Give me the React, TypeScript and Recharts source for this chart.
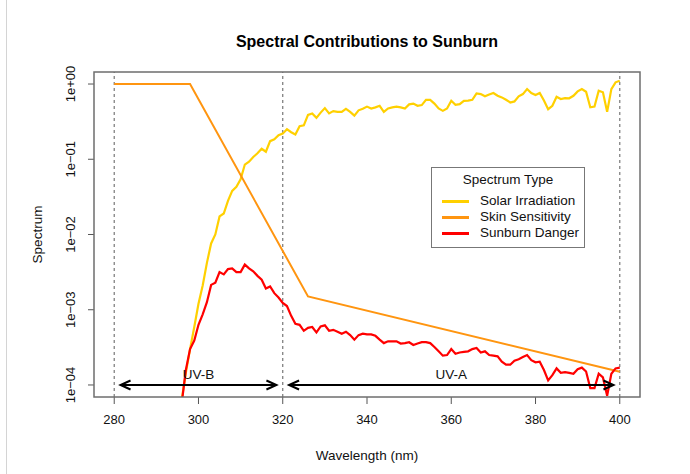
import React from 'react';
import { LineChart, Line, XAxis, YAxis, ReferenceLine } from 'recharts';

// wavelength grid (nm) shared by the measured spectra
const wavelengths = [
  296, 297, 298, 299, 300, 301, 302, 303, 304, 305, 306, 307, 308, 309, 310,
  311, 312, 313, 314, 315, 316, 317, 318, 319, 320, 321, 322, 323, 324, 325,
  326, 327, 328, 329, 330, 331, 332, 333, 334, 335, 336, 337, 338, 339, 340,
  341, 342, 343, 344, 345, 346, 347, 348, 349, 350, 351, 352, 353, 354, 355,
  356, 357, 358, 359, 360, 361, 362, 363, 364, 365, 366, 367, 368, 369, 370,
  371, 372, 373, 374, 375, 376, 377, 378, 379, 380, 381, 382, 383, 384, 385,
  386, 387, 388, 389, 390, 391, 392, 393, 394, 395, 396, 397, 398, 399, 400,
];

const solarIrradiation = [
  6.3e-5, 1.45e-4, 3.0e-4, 5.9e-4, 1.2e-3, 2.1e-3, 4.2e-3, 7.6e-3, 0.01, 0.0174,
  0.019, 0.028, 0.038, 0.043, 0.054, 0.085, 0.093, 0.107, 0.12, 0.138,
  0.126, 0.174, 0.184, 0.209, 0.219, 0.251, 0.229, 0.214, 0.275, 0.282,
  0.389, 0.407, 0.355, 0.417, 0.479, 0.407, 0.437, 0.427, 0.427, 0.468,
  0.427, 0.38, 0.447, 0.468, 0.501, 0.473, 0.49, 0.513, 0.427, 0.473,
  0.49, 0.501, 0.49, 0.473, 0.537, 0.55, 0.513, 0.525, 0.617, 0.617,
  0.55, 0.473, 0.44, 0.473, 0.598, 0.528, 0.541, 0.598, 0.603, 0.617,
  0.752, 0.735, 0.686, 0.724, 0.759, 0.698, 0.664, 0.617, 0.569, 0.587,
  0.686, 0.735, 0.857, 0.759, 0.713, 0.759, 0.603, 0.463, 0.513, 0.676,
  0.631, 0.65, 0.646, 0.698, 0.798, 0.857, 0.789, 0.49, 0.501, 0.813,
  0.776, 0.427, 0.857, 1.054, 1.107,
];

const sunburnDanger = [
  5.6e-5, 1.58e-4, 3.0e-4, 3.9e-4, 6.3e-4, 8.7e-4, 1.26e-3, 2.14e-3, 2.29e-3, 3.16e-3,
  2.95e-3, 3.47e-3, 3.55e-3, 3.16e-3, 3.16e-3, 3.98e-3, 3.55e-3, 3.24e-3, 2.82e-3, 2.51e-3,
  1.91e-3, 2.04e-3, 1.66e-3, 1.45e-3, 1.23e-3, 1.12e-3, 8.3e-4, 6.5e-4, 6.3e-4, 5.25e-4,
  5.75e-4, 5.9e-4, 5.0e-4, 6.0e-4, 6.2e-4, 5.25e-4, 5.4e-4, 5.1e-4, 4.8e-4, 5.1e-4,
  4.6e-4, 4.0e-4, 4.6e-4, 4.8e-4, 4.7e-4, 4.7e-4, 4.5e-4, 4.0e-4, 3.6e-4, 3.8e-4,
  3.8e-4, 3.8e-4, 3.55e-4, 3.6e-4, 3.7e-4, 3.4e-4, 3.55e-4, 3.7e-4, 3.7e-4, 3.6e-4,
  3.2e-4, 2.8e-4, 2.45e-4, 2.5e-4, 3.0e-4, 2.6e-4, 2.7e-4, 2.75e-4, 2.8e-4, 3.0e-4,
  3.1e-4, 2.7e-4, 2.8e-4, 2.5e-4, 2.45e-4, 2.4e-4, 2.04e-4, 1.86e-4, 1.86e-4, 2.1e-4,
  2.2e-4, 2.35e-4, 2.5e-4, 2.14e-4, 2.0e-4, 2.04e-4, 1.58e-4, 1.15e-4, 1.35e-4, 1.66e-4,
  1.45e-4, 1.48e-4, 1.45e-4, 1.41e-4, 1.62e-4, 1.7e-4, 1.51e-4, 9.1e-5, 9.1e-5, 1.41e-4,
  1.26e-4, 7.2e-5, 1.41e-4, 1.66e-4, 1.7e-4,
];

// skin sensitivity (erythema action spectrum) breakpoints
const skinWavelengths = [280, 298, 326, 400];
const skinSensitivity = [1, 1, 1.5e-3, 1.5e-4];

const xTicks = [280, 300, 320, 340, 360, 380, 400];
const yTicks = [1e-4, 1e-3, 1e-2, 1e-1, 1];
const yTickLabels = ['1e\u221204', '1e\u221203', '1e\u221202', '1e\u221201', '1e+00'];
const bandEdges = [280, 320, 400];

const seriesNames = ['Solar Irradiation', 'Skin Sensitivity', 'Sunburn Danger'];
const seriesColors = ['#FFD000', '#FF9510', '#FF0000'];

const solarData = wavelengths.map((w, i) => ({ w, v: solarIrradiation[i] }));
const sunburnData = wavelengths.map((w, i) => ({ w, v: sunburnDanger[i] }));
const skinData = skinWavelengths.map((w, i) => ({ w, v: skinSensitivity[i] }));

const FONT = '"Liberation Sans", Arial, Helvetica, sans-serif';

const XTick = ({ x, y, payload }: any) => (
  <text x={x} y={y + 18} textAnchor="middle" fontSize={13} fill="#111" fontFamily={FONT}>
    {payload.value}
  </text>
);

const YTick = ({ y, payload }: any) => {
  const idx = yTicks.findIndex((t) => Math.abs(Math.log10(t) - Math.log10(payload.value)) < 1e-6);
  return (
    <g transform={`translate(70.5, ${y}) rotate(-90)`}>
      <text x={0} y={0} dy="0.35em" textAnchor="middle" fontSize={13} fill="#111" fontFamily={FONT}>
        {yTickLabels[idx]}
      </text>
    </g>
  );
};

const Arrow = (props: any) => {
  const { x1, y1, x2, y2, text } = props;
  const len = 10;
  const hw = 4.5;
  return (
    <g>
      <line x1={x1} y1={y1} x2={x2} y2={y2} stroke="#000" strokeWidth={2} />
      <polyline points={`${x1 + len},${y1 - hw} ${x1},${y1} ${x1 + len},${y1 + hw}`} fill="none" stroke="#000" strokeWidth={2} />
      <polyline points={`${x2 - len},${y2 - hw} ${x2},${y2} ${x2 - len},${y2 + hw}`} fill="none" stroke="#000" strokeWidth={2} />
      <text x={(x1 + x2) / 2} y={y1 - 6} textAnchor="middle" fontSize={13.5} fill="#111" fontFamily={FONT}>
        {text}
      </text>
    </g>
  );
};

export default function App() {
  return (
    <div
      style={{
        position: 'absolute',
        left: 0,
        top: 0,
        width: 690,
        height: 474,
        background: '#fff',
        fontFamily: FONT,
        overflow: 'hidden',
      }}
    >
      <LineChart width={690} height={474} margin={{ top: 72, right: 50, bottom: 0, left: 0 }}>
        <XAxis
          type="number"
          dataKey="w"
          domain={[275.2, 404.8]}
          ticks={xTicks}
          allowDataOverflow
          height={77}
          tickSize={7}
          axisLine={false}
          tickLine={{ stroke: '#555' }}
          tick={<XTick />}
          label={{
            content: () => (
              <text x={367} y={460} textAnchor="middle" fontSize={13.5} fill="#111" fontFamily={FONT}>
                Wavelength (nm)
              </text>
            ),
          }}
        />
        <YAxis
          type="number"
          scale="log"
          domain={[6.92e-5, 1.445]}
          ticks={yTicks}
          allowDataOverflow
          width={94}
          tickSize={6}
          axisLine={false}
          tickLine={{ stroke: '#555' }}
          tick={<YTick />}
          label={{
            content: () => (
              <g transform="translate(37, 234.5) rotate(-90)">
                <text x={0} y={0} dy="0.35em" textAnchor="middle" fontSize={13.5} fill="#111" fontFamily={FONT}>
                  Spectrum
                </text>
              </g>
            ),
          }}
        />
        {bandEdges.map((b) => (
          <ReferenceLine key={b} x={b} stroke="#777" strokeWidth={1.2} strokeDasharray="3 3" />
        ))}
        <Line data={solarData} dataKey="v" type="linear" stroke={seriesColors[0]} strokeWidth={2.2} dot={false} isAnimationActive={false} />
        <Line data={skinData} dataKey="v" type="linear" stroke={seriesColors[1]} strokeWidth={2} dot={false} isAnimationActive={false} />
        <Line data={sunburnData} dataKey="v" type="linear" stroke={seriesColors[2]} strokeWidth={2.2} dot={false} isAnimationActive={false} />
        <ReferenceLine
          segment={[{ x: 281.5, y: 1e-4 }, { x: 318.5, y: 1e-4 }]}
          shape={(p: any) => <Arrow {...p} text="UV-B" />}
        />
        <ReferenceLine
          segment={[{ x: 321.5, y: 1e-4 }, { x: 398.5, y: 1e-4 }]}
          shape={(p: any) => <Arrow {...p} text="UV-A" />}
        />
      </LineChart>

      {/* title */}
      <div
        style={{
          position: 'absolute',
          left: 94,
          width: 546,
          top: 32,
          textAlign: 'center',
          fontSize: 16,
          fontWeight: 'bold',
          color: '#000',
          lineHeight: '20px',
        }}
      >
        Spectral Contributions to Sunburn
      </div>

      {/* plot frame + thin page edge on the left */}
      <svg style={{ position: 'absolute', left: 0, top: 0, pointerEvents: 'none' }} width={690} height={474}>
        <rect x={94} y={72} width={546} height={325} fill="none" stroke="#6e6e6e" strokeWidth={1.5} />
        <line x1={6.5} y1={0} x2={6.5} y2={474} stroke="#d4d4d4" strokeWidth={1} />
      </svg>

      {/* legend */}
      <div
        style={{
          position: 'absolute',
          left: 431,
          top: 167,
          width: 154,
          height: 81,
          border: '1px solid #777',
          background: '#fff',
          boxSizing: 'border-box',
          fontSize: 13.5,
          color: '#111',
        }}
      >
        <div style={{ position: 'absolute', top: 4, left: 0, width: '100%', textAlign: 'center', lineHeight: '16px' }}>
          Spectrum Type
        </div>
        {seriesNames.map((name, i) => (
          <div key={name} style={{ position: 'absolute', left: 0, top: 25 + i * 16, height: 16, width: '100%' }}>
            <div style={{ position: 'absolute', left: 10, top: 7, width: 27, height: 2.5, background: seriesColors[i] }} />
            <div style={{ position: 'absolute', left: 48, top: 0, lineHeight: '16px', whiteSpace: 'nowrap' }}>{name}</div>
          </div>
        ))}
      </div>
    </div>
  );
}
